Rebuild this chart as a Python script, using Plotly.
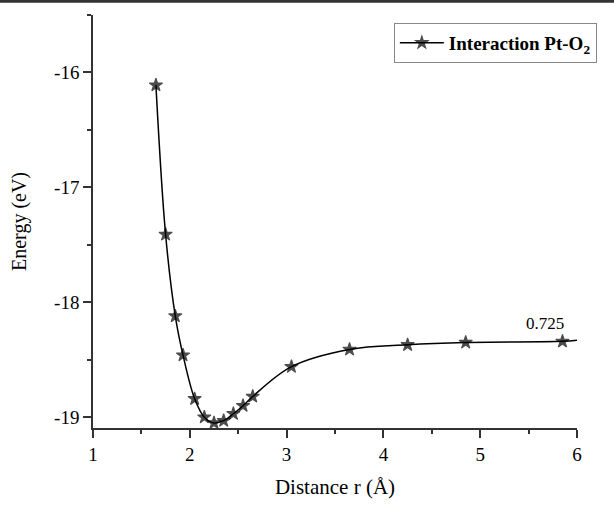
import plotly.graph_objects as go

# Data
distance = [1.65, 1.75, 1.85, 1.93, 2.05, 2.15, 2.25, 2.35, 2.45, 2.55, 2.65,
            3.05, 3.65, 4.25, 4.85, 5.85]
energy = [-16.11, -17.41, -18.12, -18.46, -18.84, -19.00, -19.05, -19.03,
          -18.97, -18.90, -18.82, -18.56, -18.41, -18.37, -18.35, -18.34]
# fitted curve continues to the right edge of the axis
curve_end_x = 6.0
curve_end_y = -18.33
label_text = "0.725"
series_name = "Interaction Pt-O<sub>2</sub>"

x_tick_vals = [1, 2, 3, 4, 5, 6]
x_tick_text = ["1", "2", "3", "4", "5", "6"]
y_tick_vals = [-16, -17, -18, -19]
y_tick_text = ["-16", "-17", "-18", "-19"]

font_family = "Liberation Serif, Times New Roman, serif"

curve_x = distance + [curve_end_x]
curve_y = energy + [curve_end_y]
marker_sizes = [10] * len(distance) + [0]

fig = go.Figure()
fig.add_trace(go.Scatter(
    x=curve_x, y=curve_y, mode="lines+markers",
    name=series_name,
    line=dict(color="black", width=1.5, shape="spline", smoothing=1.0),
    marker=dict(symbol="star", size=marker_sizes, color="black",
                line=dict(width=1.1, color="black")),
))

fig.add_annotation(
    x=distance[-1], y=energy[-1], text=label_text, showarrow=False,
    xanchor="right", yanchor="bottom", xshift=4, yshift=6,
    font=dict(family=font_family, size=17, color="black"),
)

axis_common = dict(
    showline=True, linecolor="#333", linewidth=1.5,
    ticks="outside", ticklen=8, tickwidth=1.5, tickcolor="#333",
    showgrid=False, zeroline=False, mirror=False,
    tickfont=dict(family=font_family, size=19, color="black"),
)

fig.update_layout(
    width=614, height=507,
    margin=dict(l=93, r=37, t=15, b=74),
    paper_bgcolor="white", plot_bgcolor="white",
    font=dict(family=font_family, color="black"),
    xaxis=dict(range=[1, 6], tickvals=x_tick_vals, ticktext=x_tick_text,
               minor=dict(dtick=0.5, tick0=1, ticklen=4, ticks="outside",
                          tickcolor="#333", tickwidth=1.5),
               title=dict(text="Distance r (Å)", standoff=16,
                          font=dict(family=font_family, size=21, color="black")),
               **axis_common),
    yaxis=dict(range=[-19.094, -15.5], tickvals=y_tick_vals, ticktext=y_tick_text,
               minor=dict(dtick=0.5, tick0=-16, ticklen=4, ticks="outside",
                          tickcolor="#333", tickwidth=1.5),
               title=dict(text="Energy (eV)", standoff=22,
                          font=dict(family=font_family, size=20, color="black")),
               **axis_common),
    showlegend=True,
    legend=dict(
        x=1.041, y=0.981, xanchor="right", yanchor="top",
        bordercolor="#888", borderwidth=1, bgcolor="white",
        font=dict(family=font_family, size=19, color="black", weight="bold"),
        itemwidth=44, tracegroupgap=0,
    ),
)

# dark frame line at the very top of the image
fig.add_shape(type="line", xref="paper", yref="paper",
              x0=-0.3, x1=1.2, y0=1 + 14 / 418, y1=1 + 14 / 418,
              line=dict(color="#333", width=3))

fig.write_html("out.html")
